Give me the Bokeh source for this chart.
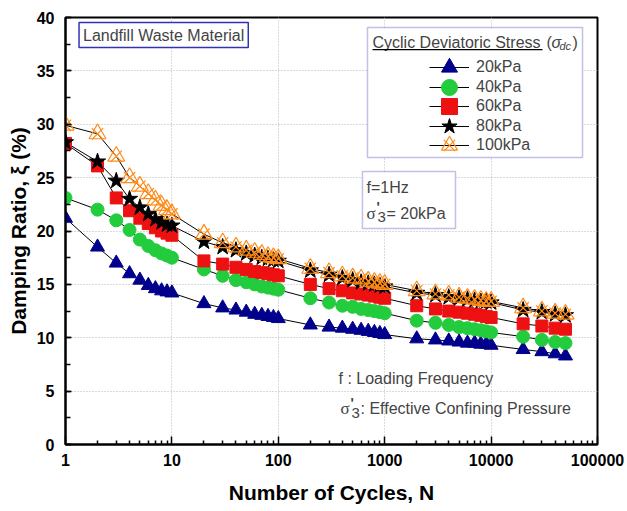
from bokeh.plotting import figure
from bokeh.models import (Legend, LegendItem, Label, BoxAnnotation, FixedTicker,
                          SingleIntervalTicker, Range1d)
from bokeh.embed import file_html
from bokeh.resources import INLINE

# Number of loading cycles
cycles = [1, 2, 3, 4, 5, 6, 7, 8, 9, 10,
          20, 30, 40, 50, 60, 70, 80, 90, 100,
          200, 300, 400, 500, 600, 700, 800, 900, 1000,
          2000, 3000, 4000, 5000, 6000, 7000, 8000, 9000, 10000,
          20000, 30000, 40000, 50000]

# Damping ratio (%) for each cyclic deviatoric stress level
damping_20kpa = [21.2, 18.5, 17.0, 16.0, 15.4, 14.9, 14.6, 14.4, 14.3, 14.2,
                 13.2, 12.8, 12.6, 12.4, 12.2, 12.1, 12.0, 11.9, 11.8,
                 11.2, 11.0, 10.9, 10.8, 10.7, 10.6, 10.5, 10.4, 10.3,
                 9.9, 9.8, 9.7, 9.6, 9.5, 9.5, 9.4, 9.4, 9.3,
                 8.9, 8.7, 8.5, 8.3]
damping_40kpa = [23.1, 22.0, 21.0, 20.1, 19.2, 18.6, 18.2, 17.9, 17.7, 17.5,
                 16.4, 15.8, 15.4, 15.2, 15.0, 14.8, 14.7, 14.6, 14.5,
                 13.7, 13.3, 13.0, 12.9, 12.7, 12.6, 12.5, 12.4, 12.3,
                 11.6, 11.4, 11.2, 11.0, 10.9, 10.8, 10.7, 10.6, 10.5,
                 10.1, 9.8, 9.6, 9.5]
damping_60kpa = [28.2, 26.1, 23.1, 21.9, 21.2, 20.7, 20.3, 20.0, 19.8, 19.6,
                 17.2, 16.9, 16.6, 16.4, 16.2, 16.1, 16.0, 15.9, 15.8,
                 15.0, 14.6, 14.4, 14.2, 14.1, 14.0, 13.9, 13.8, 13.7,
                 13.0, 12.7, 12.5, 12.4, 12.3, 12.2, 12.1, 12.0, 11.9,
                 11.3, 11.1, 10.9, 10.8]
damping_80kpa = [28.3, 26.5, 24.7, 23.0, 22.2, 21.6, 21.1, 20.8, 20.6, 20.5,
                 19.0, 18.5, 18.2, 17.9, 17.7, 17.5, 17.4, 17.3, 17.2,
                 16.3, 15.9, 15.6, 15.4, 15.2, 15.1, 15.0, 14.9, 14.8,
                 14.2, 14.0, 13.8, 13.7, 13.6, 13.5, 13.4, 13.4, 13.3,
                 12.6, 12.4, 12.2, 12.1]
damping_100kpa = [29.9, 29.1, 27.0, 25.0, 24.2, 23.5, 22.9, 22.4, 22.0, 21.6,
                  19.7, 18.9, 18.5, 18.2, 18.0, 17.8, 17.6, 17.5, 17.4,
                  16.5, 16.1, 15.8, 15.6, 15.5, 15.3, 15.2, 15.1, 15.0,
                  14.4, 14.1, 14.0, 13.8, 13.7, 13.6, 13.5, 13.4, 13.4,
                  12.8, 12.5, 12.3, 12.2]

stress_labels = ["20kPa", "40kPa", "60kPa", "80kPa", "100kPa"]
x_tick_values = [1, 10, 100, 1000, 10000, 100000]
x_tick_labels = ["1", "10", "100", "1000", "10000", "100000"]

SANS = "Liberation Sans"
SERIF = "Liberation Serif"
BLUE = "#3232b4"

p = figure(width=627, height=511, x_axis_type="log",
           x_range=Range1d(1, 100000), y_range=Range1d(0, 40),
           output_backend="svg", toolbar_location=None,
           min_border_left=65, min_border_right=30,
           min_border_top=17, min_border_bottom=67)

p.outline_line_color = "black"
p.outline_line_width = 2
p.background_fill_color = "white"
p.border_fill_color = "white"

# axes
p.xaxis.ticker = FixedTicker(ticks=x_tick_values,
                             minor_ticks=[k * 10 ** d for d in range(5) for k in range(2, 10)])
p.xaxis.major_label_overrides = {v: s for v, s in zip(x_tick_values, x_tick_labels)}
p.yaxis.ticker = SingleIntervalTicker(interval=5, num_minor_ticks=2)

for ax in (p.xaxis, p.yaxis):
    ax.axis_line_width = 2
    ax.axis_line_color = "black"
    ax.major_tick_out = 0
    ax.minor_tick_out = 0
    ax.major_tick_line_width = 1.5
    ax.minor_tick_line_width = 1.5
    ax.major_label_text_font = SANS
    ax.major_label_text_font_style = "bold"
    ax.major_label_text_font_size = "16px"
    ax.major_label_text_color = "black"
    ax.axis_label_text_font = SANS
    ax.axis_label_text_font_style = "bold"
    ax.axis_label_text_font_size = "21px"
    ax.axis_label_text_color = "black"

p.xaxis.major_tick_in = 8
p.xaxis.minor_tick_in = 4
p.yaxis.major_tick_in = 6
p.yaxis.minor_tick_in = 5
p.xaxis.major_label_standoff = 9
p.yaxis.major_label_standoff = 11
p.xaxis.axis_label = "Number of Cycles, N"
p.yaxis.axis_label = "Damping Ratio, ξ (%)"
p.xaxis.axis_label_standoff = 12
p.yaxis.axis_label_standoff = 4

for g in (p.xgrid, p.ygrid):
    g.grid_line_color = "#b4b4b4"
    g.grid_line_dash = "1 2"
    g.grid_line_width = 1

# series: lines first, markers on top
series = [damping_20kpa, damping_40kpa, damping_60kpa, damping_80kpa, damping_100kpa]
lines = [p.line(cycles, s, line_color="black", line_width=1) for s in series]

m20 = p.scatter(cycles, damping_20kpa, marker="triangle", size=14,
                fill_color="#00008c", line_color="#00008c")
m40 = p.scatter(cycles, damping_40kpa, marker="circle", size=13,
                fill_color="#22cc3c", line_color="#22cc3c")
m60 = p.scatter(cycles, damping_60kpa, marker="square", size=12,
                fill_color="#ee1111", line_color="#ee1111")
m80 = p.scatter(cycles, damping_80kpa, marker="star", size=17,
                fill_color="black", line_color="black")
m100a = p.scatter(cycles, damping_100kpa, marker="triangle", size=17,
                  fill_color=None, line_color="#ff8c1a", line_width=1.2)
m100b = p.scatter(cycles, damping_100kpa, marker="x", size=16,
                  line_color="#ff8c1a", line_width=1.2)

# legend frame and heading
p.add_layout(BoxAnnotation(left=689, right=72300, top=39.06, bottom=26.89,
                           fill_color="white", fill_alpha=1,
                           line_color=BLUE, line_width=1.5, level="annotation"))

head_x, head_y = 768, 37.66
p.add_layout(Label(x=head_x, y=head_y, text="Cyclic Deviatoric Stress", text_font=SANS,
                   text_font_size="16px", text_baseline="middle", text_align="left"))
p.add_layout(Label(x=head_x, y=head_y, x_offset=174, text="(", text_font=SANS,
                   text_font_size="16px", text_baseline="middle", text_align="left"))
p.add_layout(Label(x=head_x, y=head_y, x_offset=179, text="σ", text_font=SANS,
                   text_font_style="italic", text_font_size="16px",
                   text_baseline="middle", text_align="left"))
p.add_layout(Label(x=head_x, y=head_y, x_offset=187, y_offset=-4, text="dc", text_font=SANS,
                   text_font_style="italic", text_font_size="11px",
                   text_baseline="middle", text_align="left"))
p.add_layout(Label(x=head_x, y=head_y, x_offset=200, text=")", text_font=SANS,
                   text_font_size="16px", text_baseline="middle", text_align="left"))
p.add_layout(BoxAnnotation(left=head_x, right=30400, top=37.06, bottom=36.94,
                           fill_color="black", fill_alpha=1, line_alpha=0,
                           level="annotation"))

# one legend per stress level, so each row can use a tall glyph box
# (full-size markers) while the rows stay about 20 px apart
legend_renderers = [[lines[0], m20], [lines[1], m40], [lines[2], m60],
                    [lines[3], m80], [lines[4], m100a, m100b]]
row_bottoms = [357, 337, 318, 298, 279]
for lab, rends, yb in zip(stress_labels, legend_renderers, row_bottoms):
    p.add_layout(Legend(items=[LegendItem(label=lab, renderers=rends)],
                        location=(364, yb), glyph_width=40, glyph_height=40,
                        label_height=20, spacing=0, padding=0, margin=0,
                        label_standoff=7, label_text_font=SANS,
                        label_text_font_size="16px",
                        background_fill_alpha=0, border_line_alpha=0))

# material name box
p.add_layout(Label(x=1.34, y=38.36, text="Landfill Waste Material", text_font=SANS,
                   text_font_size="16px", text_baseline="middle", text_align="left",
                   background_fill_color="white", border_line_color=BLUE,
                   border_line_width=1.5, padding=4))

# test conditions box
p.add_layout(BoxAnnotation(left=618, right=4627, top=25.57, bottom=20.23,
                           fill_color="white", fill_alpha=1,
                           line_color=BLUE, line_width=1.5, level="annotation"))
cond_x = 675
p.add_layout(Label(x=cond_x, y=24.07, text="f=1Hz", text_font=SANS,
                   text_font_size="16px", text_baseline="middle", text_align="left"))
p.add_layout(Label(x=cond_x, y=21.64, text="σ", text_font=SERIF,
                   text_font_size="17px", text_baseline="middle", text_align="left"))
p.add_layout(Label(x=cond_x, y=21.64, x_offset=10, y_offset=6, text="'", text_font=SANS,
                   text_font_style="bold", text_font_size="14px",
                   text_baseline="middle", text_align="left"))
p.add_layout(Label(x=cond_x, y=21.64, x_offset=11, y_offset=-4, text="3", text_font=SANS,
                   text_font_size="15px", text_baseline="middle", text_align="left"))
p.add_layout(Label(x=cond_x, y=21.64, x_offset=20, text="= 20kPa", text_font=SANS,
                   text_font_size="16px", text_baseline="middle", text_align="left"))

# notation notes
note_x = 368
p.add_layout(Label(x=note_x, y=6.18, text="f : Loading Frequency", text_font=SANS,
                   text_font_size="16px", text_baseline="middle", text_align="left"))
p.add_layout(Label(x=note_x, y=3.37, x_offset=2, text="σ", text_font=SERIF,
                   text_font_size="17px", text_baseline="middle", text_align="left"))
p.add_layout(Label(x=note_x, y=3.37, x_offset=12, y_offset=6, text="'", text_font=SANS,
                   text_font_style="bold", text_font_size="14px",
                   text_baseline="middle", text_align="left"))
p.add_layout(Label(x=note_x, y=3.37, x_offset=13, y_offset=-4, text="3", text_font=SANS,
                   text_font_size="15px", text_baseline="middle", text_align="left"))
p.add_layout(Label(x=note_x, y=3.37, x_offset=22, text=": Effective Confining Pressure",
                   text_font=SANS, text_font_size="16px", text_baseline="middle",
                   text_align="left"))

open("out.html", "w").write(file_html(p, INLINE))
